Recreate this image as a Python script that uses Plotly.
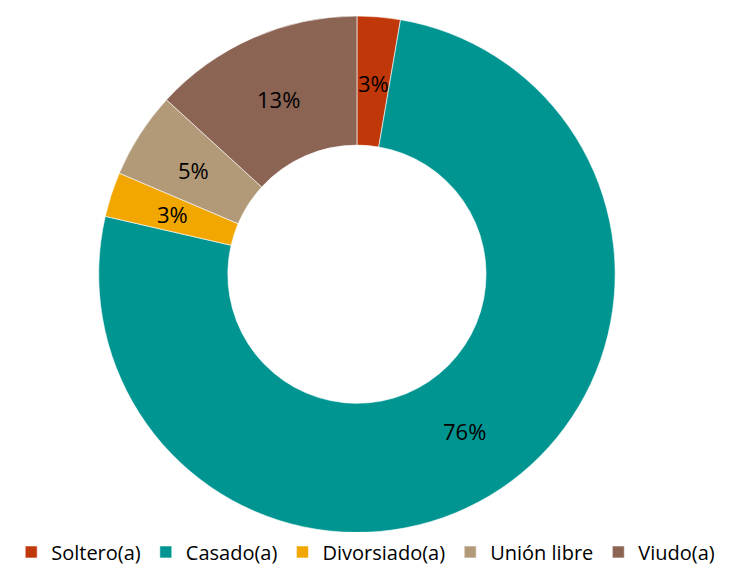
import math
import plotly.graph_objects as go

categories = ["Soltero(a)", "Casado(a)", "Divorsiado(a)", "Unión libre", "Viudo(a)"]
values = [2.7, 75.9, 2.8, 5.4, 13.2]
colors = ["#C0380A", "#009591", "#F2A600", "#B29A79", "#8C6454"]

W, H = 730, 568
M_T, M_B = 8, 33
HOLE = 0.5

fig = go.Figure(go.Pie(
    labels=categories,
    values=values,
    hole=HOLE,
    sort=False,
    direction="clockwise",
    rotation=0,
    marker=dict(colors=colors, line=dict(color="white", width=0.6)),
    textinfo="none",
    domain=dict(x=[0, 0.956], y=[0, 1]),
    hoverinfo="label+percent",
))

# percentage labels at the middle of the ring, at each slice's mid-angle
total = sum(values)
cx, cy = 349.0, 270.0          # pie centre within the figure (px)
r_out = 258.5
r_mid = r_out * (1 + HOLE) / 2
cum = 0.0
plot_h = H - M_T - M_B
for v in values:
    mid = (cum + v / 2) / total * 2 * math.pi
    cum += v
    px = cx + r_mid * math.sin(mid)
    py = cy - r_mid * math.cos(mid)
    fig.add_annotation(
        x=px / W, y=(H - M_B - py) / plot_h,
        xref="paper", yref="paper",
        text=f"{round(v / total * 100)}%",
        showarrow=False,
        xanchor="center", yanchor="middle",
        font=dict(family="Open Sans, sans-serif", size=22, color="black"),
    )

fig.update_layout(
    width=W, height=H,
    margin=dict(l=0, r=0, t=M_T, b=M_B),
    paper_bgcolor="white",
    plot_bgcolor="white",
    showlegend=True,
    legend=dict(
        orientation="h",
        x=0.49, xanchor="center",
        yref="container",
        y=0.008, yanchor="bottom",
        font=dict(family="Open Sans, sans-serif", size=20, color="black"),
        traceorder="normal",
    ),
)

fig.write_html("out.html")
